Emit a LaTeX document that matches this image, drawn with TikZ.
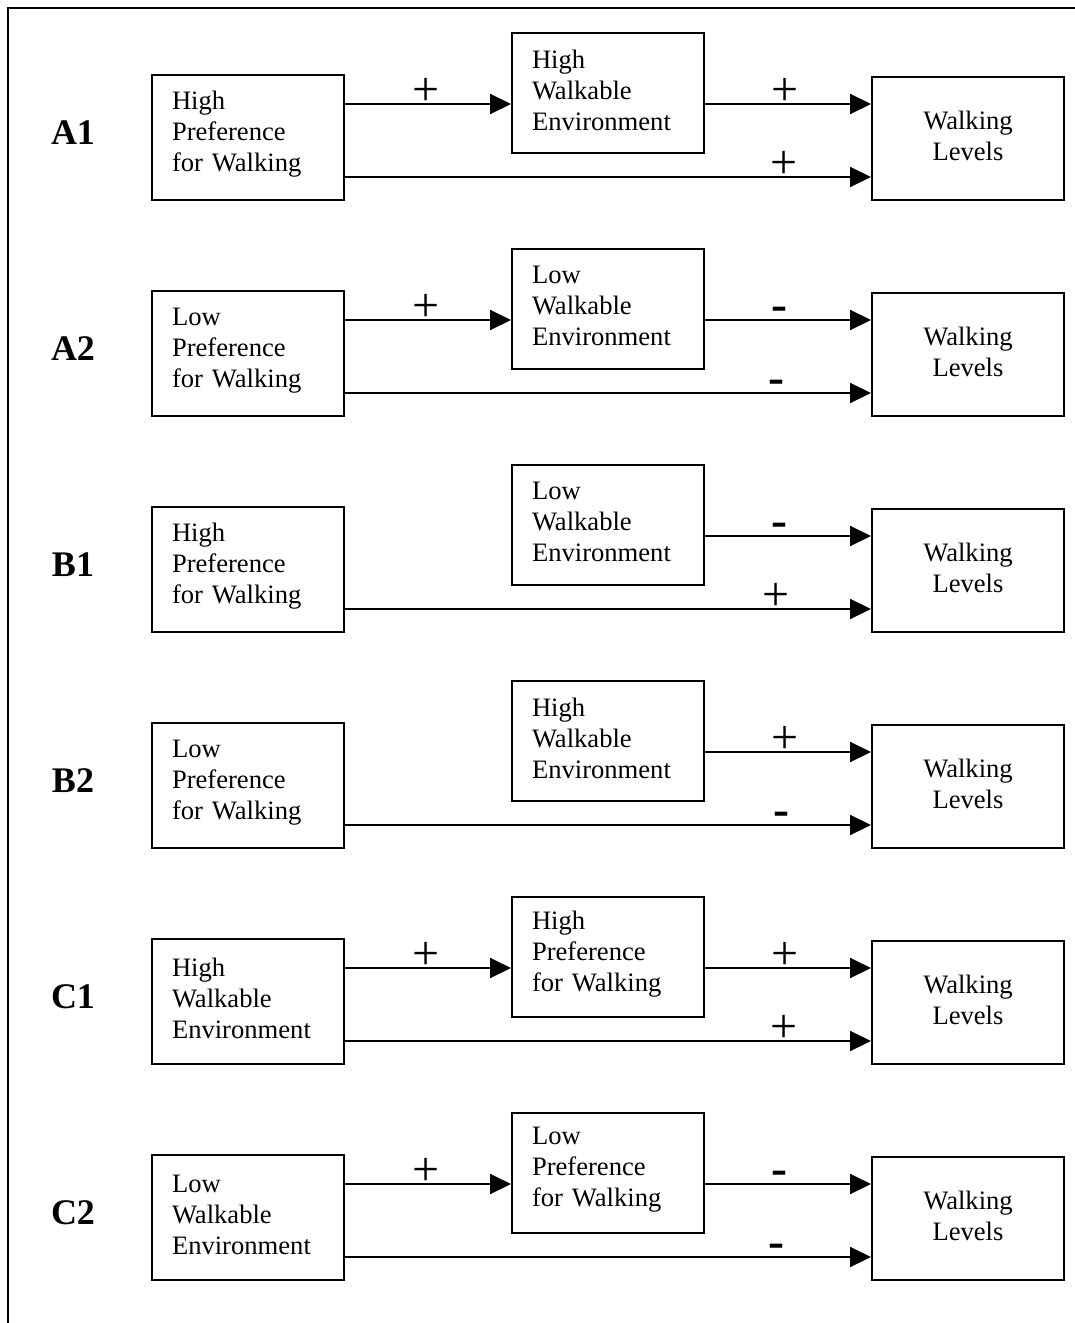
\documentclass[tikz,border=0pt]{standalone}
\usepackage{fontspec}
\setmainfont{Liberation Serif}
\usetikzlibrary{arrows.meta}

\tikzset{
  box/.style={draw, line width=1pt, minimum width=96pt, inner xsep=10pt, text width=76pt, align=left, font=\fontsize{13.3}{15.5}\selectfont, execute at end node=\vspace{3pt}},
  outbox/.style={box, align=center},
  arr/.style={line width=1pt, -{Triangle[length=10.5pt,width=10pt]}},
  possign/.style={font=\fontsize{24}{24}\selectfont, yshift=6pt, inner sep=0pt},
  negsign/.style={font=\bfseries\fontsize{24}{24}\selectfont, yshift=3pt, inner sep=0pt},
  rowlbl/.style={font=\bfseries\fontsize{18}{18}\selectfont}
}

\begin{document}
\begin{tikzpicture}[x=0.5pt, y=-0.5pt]
  \useasboundingbox (0,0) rectangle (1075,1323);
  \draw[line width=1pt] (8,1323) -- (8,8) -- (1075,8);

  % one row per case
  \foreach \i/\r/\lt/\mt in {0/A1/{High\\Preference\\for Walking}/{High\\Walkable\\Environment},
      1/A2/{Low\\Preference\\for Walking}/{Low\\Walkable\\Environment},
      2/B1/{High\\Preference\\for Walking}/{Low\\Walkable\\Environment},
      3/B2/{Low\\Preference\\for Walking}/{High\\Walkable\\Environment},
      4/C1/{High\\Walkable\\Environment}/{High\\Preference\\for Walking},
      5/C2/{Low\\Walkable\\Environment}/{Low\\Preference\\for Walking}} {
    \node[rowlbl] (\r) at (73, {133+216*\i}) {\r};
    \node[box, minimum height=62.5pt] (\r-l) at (248, {137.5+216*\i}) {\lt};
    \node[box, minimum height=60pt] (\r-m) at (608, {93+216*\i}) {\mt};
    \node[outbox, minimum height=61.5pt] (\r-w) at (968, {138.5+216*\i}) {Walking\\Levels};
    \coordinate (\r-u) at (0, {104+216*\i});
    \coordinate (\r-d) at (0, {177+216*\i});
  }

  % first link
  \foreach \r in {A1,A2,C1,C2}
    \draw[arr] (\r-l.east |- \r-u) -- node[possign, pos=.49]{+} (\r-m.west |- \r-u);

  % second link
  \foreach \r/\st/\s/\p in {A1/possign/+/.48, A2/negsign/-/.45, B1/negsign/-/.45, B2/possign/+/.48, C1/possign/+/.48, C2/negsign/-/.45}
    \draw[arr] (\r-m.east |- \r-u) -- node[\st, pos=\p]{\s} (\r-w.west |- \r-u);

  % direct link
  \foreach \r/\st/\s/\p in {A1/possign/+/.835, A2/negsign/-/.82, B1/possign/+/.82, B2/negsign/-/.83, C1/possign/+/.835, C2/negsign/-/.82}
    \draw[arr] (\r-l.east |- \r-d) -- node[\st, pos=\p]{\s} (\r-w.west |- \r-d);
\end{tikzpicture}
\end{document}
